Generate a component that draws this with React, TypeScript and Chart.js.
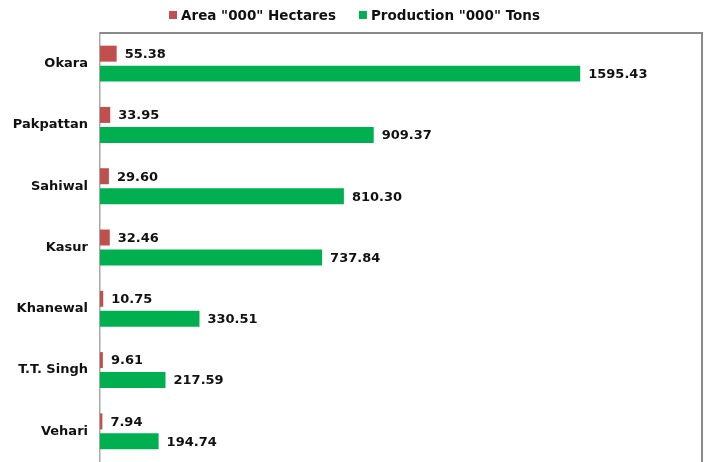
import React, { useEffect, useRef } from "react";
import { Chart, registerables } from "chart.js";

Chart.register(...registerables);

const districts = ["Okara", "Pakpattan", "Sahiwal", "Kasur", "Khanewal", "T.T. Singh", "Vehari"];
const areaValues = [55.38, 33.95, 29.6, 32.46, 10.75, 9.61, 7.94];
const productionValues = [1595.43, 909.37, 810.3, 737.84, 330.51, 217.59, 194.74];
const seriesNames = ['Area "000" Hectares', 'Production "000" Tons'];
const seriesColors = ["#C0504D", "#00B050"];

const FONT = "'DejaVu Sans', Verdana, sans-serif";

const valueLabels = {
  id: "valueLabels",
  afterDatasetsDraw(chart: any) {
    const ctx = chart.ctx;
    ctx.save();
    ctx.font = `bold 13px ${FONT}`;
    ctx.fillStyle = "#111";
    ctx.textAlign = "left";
    ctx.textBaseline = "middle";
    chart.data.datasets.forEach((ds: any, di: number) => {
      const meta = chart.getDatasetMeta(di);
      meta.data.forEach((el: any, i: number) => {
        ctx.fillText(Number(ds.data[i]).toFixed(2), el.x + 8, el.y + 1);
      });
    });
    ctx.restore();
  },
};

const topLegend = {
  id: "topLegend",
  afterDraw(chart: any) {
    const ctx = chart.ctx;
    ctx.save();
    ctx.font = `bold 13.5px ${FONT}`;
    ctx.textBaseline = "middle";
    ctx.textAlign = "left";
    const box = 8;
    const boxGap = 4;
    const itemGap = 23;
    const items = chart.data.datasets.map((ds: any) => ({
      label: ds.label,
      color: ds.backgroundColor,
      w: box + boxGap + ctx.measureText(ds.label).width,
    }));
    const total = items.reduce((s: number, it: any) => s + it.w, 0) + itemGap * (items.length - 1);
    let x = (chart.width - total) / 2;
    const cy = 15;
    items.forEach((it: any) => {
      ctx.fillStyle = it.color;
      ctx.fillRect(x, cy - box / 2, box, box);
      ctx.fillStyle = "#111";
      ctx.fillText(it.label, x + box + boxGap, cy + 1);
      x += it.w + itemGap;
    });
    ctx.restore();
  },
};

const frame = {
  id: "frame",
  afterDraw(chart: any) {
    const { ctx, chartArea } = chart;
    ctx.save();
    ctx.strokeStyle = "#8a8a8a";
    ctx.lineWidth = 2;
    ctx.beginPath();
    ctx.moveTo(chartArea.left, chartArea.top);
    ctx.lineTo(chartArea.right, chartArea.top);
    ctx.lineTo(chartArea.right, chartArea.bottom + 2);
    ctx.stroke();
    ctx.restore();
  },
};

export default function App() {
  const ref = useRef<HTMLCanvasElement | null>(null);
  useEffect(() => {
    if (!ref.current) return;
    const chart = new Chart(ref.current, {
      type: "bar",
      data: {
        labels: districts,
        datasets: [
          {
            label: seriesNames[0],
            data: areaValues,
            backgroundColor: seriesColors[0],
            barPercentage: 0.8,
            categoryPercentage: 0.652,
          },
          {
            label: seriesNames[1],
            data: productionValues,
            backgroundColor: seriesColors[1],
            barPercentage: 0.8,
            categoryPercentage: 0.652,
          },
        ],
      },
      options: {
        indexAxis: "y",
        animation: false,
        responsive: true,
        maintainAspectRatio: false,
        layout: { padding: { left: 0, right: 7, top: 33, bottom: 0 } },
        plugins: {
          legend: { display: false },
          tooltip: { enabled: false },
        },
        scales: {
          x: {
            display: false,
            min: 0,
            max: 2000,
          },
          y: {
            afterFit: (scale: any) => {
              scale.width = 100;
              scale.paddingTop = 0;
              scale.paddingBottom = 0;
            },
            grid: { display: false, drawTicks: false },
            border: { display: true, color: "#a8a8a8", width: 1.5 },
            ticks: {
              padding: 12,
              color: "#111",
              font: { family: FONT, size: 13, weight: "bold" },
            },
          },
        },
      },
      plugins: [valueLabels, topLegend, frame],
    });
    return () => chart.destroy();
  }, []);
  return (
    <div style={{ position: "fixed", left: 0, top: 0, width: 709, height: 462, background: "#fff" }}>
      <canvas ref={ref} />
    </div>
  );
}
